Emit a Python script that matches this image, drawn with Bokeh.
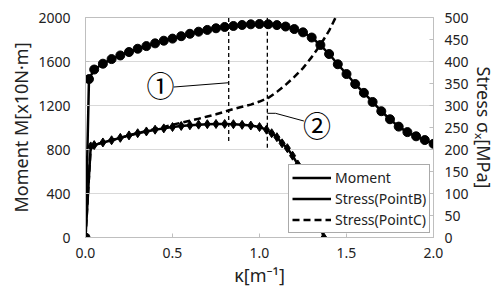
import math
from bokeh.plotting import figure
from bokeh.models import (Range1d, LinearAxis, FixedTicker, PrintfTickFormatter,
                          Legend, LegendItem, Label)
from bokeh.embed import file_html
from bokeh.resources import INLINE

# ---------------- data ----------------
kappa_m = [0.0, 0.02, 0.05, 0.10, 0.15, 0.20, 0.25, 0.30, 0.35, 0.40, 0.45, 0.50,
           0.55, 0.60, 0.65, 0.70, 0.75, 0.80, 0.85, 0.90, 0.95, 1.00, 1.05, 1.10,
           1.15, 1.20, 1.25, 1.30, 1.35, 1.40, 1.45, 1.50, 1.55, 1.60, 1.65, 1.70,
           1.75, 1.80, 1.85, 1.90, 1.95, 2.00]
moment = [0, 1440, 1527, 1580, 1622, 1655, 1686, 1716, 1740, 1765, 1789, 1808,
          1830, 1852, 1871, 1887, 1902, 1914, 1923, 1932, 1938, 1941, 1939, 1931,
          1918, 1895, 1865, 1818, 1750, 1668, 1575, 1486, 1395, 1315, 1232, 1148,
          1075, 1008, 958, 920, 886, 852]

kappa_b = [0.0, 0.03, 0.05, 0.10, 0.15, 0.20, 0.25, 0.30, 0.35, 0.40, 0.45, 0.50,
           0.55, 0.60, 0.65, 0.70, 0.75, 0.80, 0.85, 0.90, 0.95, 1.00, 1.04, 1.07,
           1.10, 1.13, 1.16, 1.19, 1.22, 1.25, 1.28, 1.31, 1.34, 1.37]
stress_b = [0, 207, 210, 216, 221, 226.5, 232, 237, 241, 245, 248, 251,
            253.5, 255, 256.5, 257.5, 258, 258, 257.5, 256, 254.5, 251, 245, 237,
            228, 214, 203, 186, 166, 142, 106, 71, 36, 0]

kappa_c = [0.0, 0.03, 0.05, 0.10, 0.15, 0.20, 0.25, 0.30, 0.35, 0.40, 0.45, 0.50,
           0.55, 0.60, 0.65, 0.70, 0.75, 0.80, 0.85, 0.90, 0.95, 1.00, 1.05, 1.10,
           1.15, 1.20, 1.25, 1.30, 1.35, 1.40, 1.45]
stress_c = [0, 207, 210, 216, 221, 226.5, 232, 237.5, 242, 246.5, 251, 256,
            261, 265.5, 270, 275, 280, 286, 292, 297, 302, 309, 317, 331,
            347, 365, 385, 410, 438, 470, 510]

x_ticks = [0.0, 0.5, 1.0, 1.5, 2.0]
left_ticks = [0, 400, 800, 1200, 1600, 2000]
right_ticks = [0, 50, 100, 150, 200, 250, 300, 350, 400, 450, 500]

# annotation markers (point 1 and point 2)
mark_kappa = [0.823, 1.045]
mark_top = [2000, 2000]
mark_bottom = [877, 816]
mark_text = ["①", "②"]
mark_label_pos = [(0.431, 1385), (1.331, 1023)]
leader1_x = [0.507, 0.823]
leader1_y = [1368, 1407]
leader2_x = [1.045, 1.092, 1.255]
leader2_y = [1129, 1129, 1059]

FONT = "Noto Sans"
GRID = "#d9d9d9"
BORDER = "#bfbfbf"

p = figure(width=498, height=290, output_backend="svg", toolbar_location=None,
           x_range=Range1d(0, 2.0), y_range=Range1d(0, 2000),
           min_border_left=85, min_border_right=65, min_border_top=17,
           min_border_bottom=53)
p.extra_y_ranges = {"s": Range1d(0, 500)}

p.outline_line_color = BORDER
p.outline_line_width = 1
p.background_fill_color = "white"
p.border_fill_color = "white"

p.xgrid.visible = False
p.ygrid.grid_line_color = GRID
p.ygrid.grid_line_width = 1
p.ygrid.ticker = FixedTicker(ticks=left_ticks)

# axes
xa = p.xaxis[0]
xa.ticker = FixedTicker(ticks=x_ticks)
xa.formatter = PrintfTickFormatter(format="%.1f")
xa.axis_label = "κ[m⁻¹]"
ya = p.yaxis[0]
ya.ticker = FixedTicker(ticks=left_ticks)
ya.axis_label = "Moment M[x10N·m]"

ra = LinearAxis(y_range_name="s", ticker=FixedTicker(ticks=right_ticks),
                axis_label="Stress σₓ[MPa]")
p.add_layout(ra, "right")

for ax in (xa, ya, ra):
    ax.axis_line_color = BORDER
    ax.major_tick_line_color = BORDER
    ax.major_tick_in = 4
    ax.major_tick_out = 0
    ax.minor_tick_line_color = None
    ax.major_label_text_font = FONT
    ax.major_label_text_font_size = "14px"
    ax.major_label_text_color = "#222222"
    ax.axis_label_text_font = FONT
    ax.axis_label_text_font_size = "18px"
    ax.axis_label_text_font_style = "normal"
    ax.axis_label_text_color = "#222222"

xa.major_label_standoff = 10
xa.axis_label_standoff = 2
ya.major_label_standoff = 15
ya.axis_label_standoff = 2
ra.major_label_standoff = 11
ra.axis_label_standoff = 0

# series
r_m = p.line(kappa_m, moment, line_color="black", line_width=2.5)
p.scatter(kappa_m, moment, marker="circle", size=9, fill_color="black",
          line_color="black")

r_c = p.line(kappa_c, stress_c, y_range_name="s", line_color="black",
             line_width=2.5, line_dash="7 4")

r_b = p.line(kappa_b, stress_b, y_range_name="s", line_color="black",
             line_width=2.5)
p.scatter(kappa_b, stress_b, y_range_name="s", marker="diamond", size=9,
          fill_color="black", line_color="black")

# vertical marker lines and leaders
for k, t, b in zip(mark_kappa, mark_top, mark_bottom):
    p.line([k, k], [b, t], line_color="black", line_width=1.3, line_dash="4 3")
p.line(leader1_x, leader1_y, line_color="black", line_width=1)
p.line(leader2_x, leader2_y, line_color="black", line_width=1)

for txt, (lx, ly) in zip(mark_text, mark_label_pos):
    p.add_layout(Label(x=lx, y=ly, text=txt, text_align="center",
                       text_baseline="middle",
                       text_font="Noto Sans CJK JP",
                       text_font_size="28px", text_color="black"))

legend = Legend(items=[LegendItem(label="Moment", renderers=[r_m]),
                       LegendItem(label="Stress(PointB)", renderers=[r_b]),
                       LegendItem(label="Stress(PointC)", renderers=[r_c])],
                location=(203, 4))
legend.border_line_color = "#555555"
legend.border_line_width = 1
legend.background_fill_color = "white"
legend.background_fill_alpha = 1.0
legend.label_text_font = FONT
legend.label_text_font_size = "14px"
legend.label_text_color = "#222222"
legend.glyph_width = 39
legend.glyph_height = 17
legend.label_height = 17
legend.label_standoff = 4
legend.padding = 3
legend.spacing = 2
legend.margin = 0
p.add_layout(legend, "center")

open("out.html", "w").write(file_html(p, INLINE))
